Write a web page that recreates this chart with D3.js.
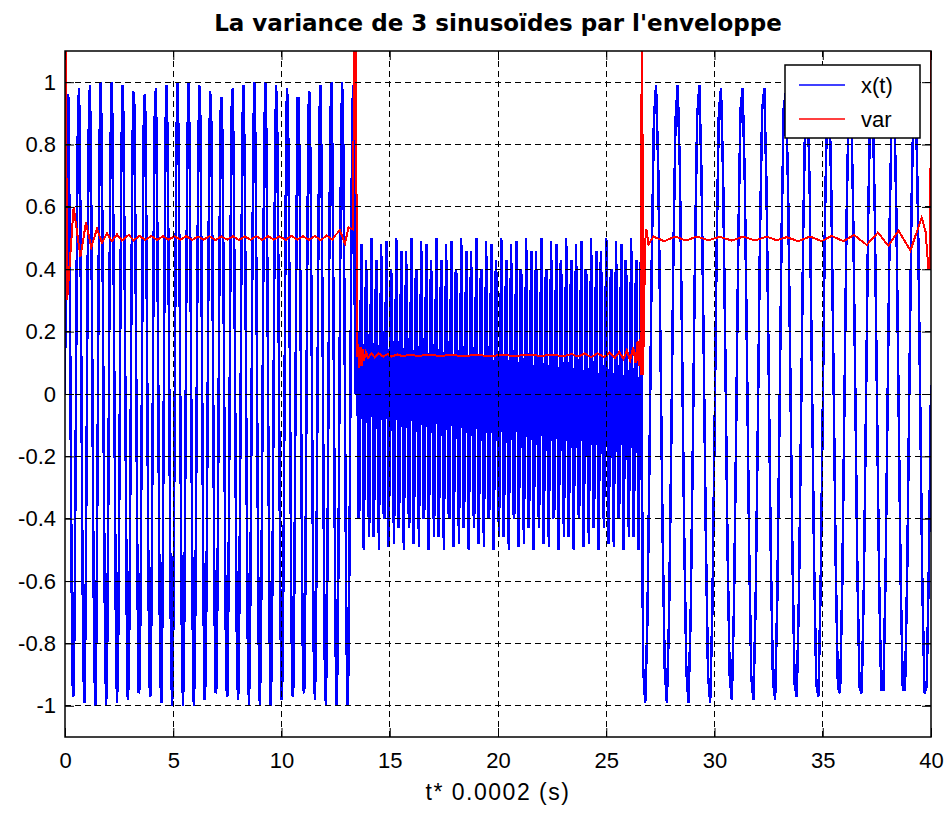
<!DOCTYPE html>
<html>
<head>
<meta charset="utf-8">
<script src="https://cdn.jsdelivr.net/npm/d3@7/dist/d3.min.js"></script>
<style>
  body { margin: 0; background: #fff; }
  text { font-family: "Liberation Sans", Arial, sans-serif; }
</style>
</head>
<body>
<div id="chart"></div>
<script>
// échantillons de x(t)
var seg1Start = 0, seg1Step = 0.05;
var seg2Start = 13.4, seg2Step = 0.05;
var seg3Start = 26.7, seg3Step = 0.1;

var seg1 = [0, .58, .95, .96, .62, .04, -.54, -.93, -.97, -.65,
    -.09, .51, .91, .98, .68, .13, -.47, -.89, -.99, -.71,
    -.17, .43, .87, .99, .74, .22, -.39, -.85, -1, -.77,
    -.26, .35, .83, 1, .8, .3, -.31, -.8, -1, -.82,
    -.34, .27, .78, 1, .85, .38, -.22, -.75, -.99, -.87,
    -.42, .18, .72, .99, .89, .46, -.14, -.69, -.98, -.91,
    -.5, .1, .66, .97, .93, .54, -.05, -.62, -.96, -.94,
    -.57, .01, .59, .95, .96, .61, .03, -.55, -.93, -.97,
    -.64, -.08, .52, .92, .98, .68, .12, -.48, -.9, -.99,
    -.71, -.17, .44, .88, .99, .74, .21, -.4, -.86, -1,
    -.77, -.25, .36, .83, 1, .79, .29, -.32, -.81, -1,
    -.82, -.33, .28, .78, 1, .84, .37, -.23, -.75, -1,
    -.87, -.41, .19, .73, .99, .89, .45, -.15, -.69, -.98,
    -.91, -.49, .1, .66, .97, .92, .53, -.06, -.63, -.96,
    -.94, -.57, .02, .59, .95, .95, .6, .03, -.56, -.94,
    -.97, -.64, -.07, .52, .92, .98, .67, .11, -.48, -.9,
    -.98, -.7, -.16, .45, .88, .99, .73, .2, -.41, -.86,
    -1, -.76, -.24, .37, .84, 1, .79, .28, -.33, -.81,
    -1, -.81, -.33, .28, .79, 1, .84, .37, -.24, -.76,
    -1, -.86, -.41, .2, .73, .99, .88, .45, -.16, -.7,
    -.98, -.9, -.48, .11, .67, .98, .92, .52, -.07, -.64,
    -.97, -.94, -.56, .03, .6, .95, .95, .59, .02, -.57,
    -.94, -.96, -.63, -.06, .53, .92, .97, .66, .1, -.49,
    -.91, -.98, -.69, -.15, .45, .89, .99, .73, .19, -.41,
    -.87, -1, -.75, -.23, .37, .84, 1, .78, .28, -.33,
    -.82, -1, -.81, -.32, .29, .79, 1, .83, .36, -.25,
    -.77, -1, -.86, -.4, .21, .74, .99, .88];

var seg2 = [0, .49, .2, -.4, -.37, .25, .48, -.05, -.5, -.15,
    .43, .33, -.29, -.46, .1, .5, .1, -.46, -.29, .33,
    .43, -.15, -.5, -.05, .48, .25, -.37, -.4, .2, .49,
    0, -.49, -.2, .4, .37, -.25, -.48, .05, .5, .15,
    -.43, -.33, .29, .46, -.1, -.5, -.1, .46, .29, -.33,
    -.43, .15, .5, .05, -.48, -.25, .37, .4, -.2, -.49,
    0, .49, .2, -.4, -.37, .25, .48, -.05, -.5, -.15,
    .43, .33, -.29, -.46, .1, .5, .1, -.46, -.29, .33,
    .43, -.15, -.5, -.05, .48, .25, -.37, -.4, .2, .49,
    0, -.49, -.2, .4, .37, -.25, -.48, .05, .5, .15,
    -.43, -.33, .29, .46, -.1, -.5, -.1, .46, .29, -.33,
    -.43, .15, .5, .05, -.48, -.25, .37, .4, -.2, -.49,
    0, .49, .2, -.4, -.37, .25, .48, -.05, -.5, -.15,
    .43, .33, -.29, -.46, .1, .5, .1, -.46, -.29, .33,
    .43, -.15, -.5, -.05, .48, .25, -.37, -.4, .2, .49,
    0, -.49, -.2, .4, .37, -.25, -.48, .05, .5, .15,
    -.43, -.33, .29, .46, -.1, -.5, -.1, .46, .29, -.33,
    -.43, .15, .5, .05, -.48, -.25, .37, .4, -.2, -.49,
    0, .49, .2, -.4, -.37, .25, .48, -.05, -.5, -.15,
    .43, .33, -.29, -.46, .1, .5, .1, -.46, -.29, .33,
    .43, -.15, -.5, -.05, .48, .25, -.37, -.4, .2, .49,
    0, -.49, -.2, .4, .37, -.25, -.48, .05, .5, .15,
    -.43, -.33, .29, .46, -.1, -.5, -.1, .46, .29, -.33,
    -.43, .15, .5, .05, -.48, -.25, .37, .4, -.2, -.49,
    0, .49, .2, -.4, -.37, .25, .48, -.05, -.5, -.15,
    .43, .33, -.29, -.46, .1, .5, .1, -.46, -.29, .33,
    .43, -.15, -.5, -.05, .48];

var seg3 = [-.87, -.99, -.73, -.19, .42, .88, .99, .73, .18, -.43,
    -.88, -.99, -.72, -.18, .44, .88, .99, .72, .17, -.45,
    -.89, -.99, -.71, -.16, .45, .89, .99, .7, .15, -.46,
    -.9, -.99, -.7, -.14, .47, .9, .98, .69, .13, -.48,
    -.9, -.98, -.68, -.12, .49, .91, .98, .68, .12, -.49,
    -.91, -.98, -.67, -.11, .5, .91, .98, .67, .1, -.51,
    -.92, -.98, -.66, -.09, .52, .92, .97, .65, .08, -.52,
    -.93, -.97, -.65, -.07, .53, .93, .97, .64, .06, -.54,
    -.93, -.97, -.63, -.05, .55, .93, .97, .63, .05, -.55,
    -.94, -.96, -.62, -.04, .56, .94, .96, .61, .03, -.57,
    -.94, -.96, -.61, -.02, .57, .95, .96, .6, .01, -.58,
    -.95, -.95, -.59, 0, .59, .95, .95, .58, -.01, -.6,
    -.95, -.95, -.58, .02, .6, .96, .94, .57, -.02, -.61,
    -.96, -.94, -.56, .03];

var varT = [0, 0.1, 0.4, 0.71, 0.97, 1.21, 1.48, 1.71, 1.94, 2.17,
    2.4, 2.63, 2.94, 3.17, 3.44, 3.71, 3.98, 4.25, 4.52, 4.79,
    5.06, 5.33, 5.6, 5.87, 6.14, 6.41, 6.68, 6.95, 7.22, 7.49,
    7.76, 8.03, 8.3, 8.57, 8.84, 9.11, 9.38, 9.65, 9.92, 10.19,
    10.46, 10.73, 11.0, 11.27, 11.54, 11.81, 12.08, 12.35, 12.5, 12.7,
    12.93, 13.1, 13.3, 13.4, 13.5, 13.55, 13.6, 13.65, 13.7, 13.75,
    13.8, 13.9, 14.0, 14.15, 14.3, 14.5, 14.7, 14.9, 15.1, 15.35,
    15.6, 15.9, 16.3, 16.8, 17.3, 17.8, 18.4, 19.0, 19.6, 20.2,
    20.8, 21.4, 22.0, 22.5, 23.0, 23.4, 23.7, 24.0, 24.3, 24.6,
    24.9, 25.15, 25.4, 25.6, 25.8, 25.95, 26.1, 26.25, 26.35, 26.45,
    26.5, 26.55, 26.6, 26.65, 26.7, 26.8, 26.85, 26.95, 27.18, 27.68,
    28.18, 28.68, 29.18, 29.7, 30.25, 30.8, 31.33, 31.87, 32.41, 32.87,
    33.33, 33.87, 34.41, 34.95, 35.41, 35.95, 36.45, 37.03, 37.55, 38.03,
    38.5, 39.05, 39.57, 39.75, 39.88, 39.97, 40];
var varV = [1.6, 0.30, 0.60, 0.44, 0.55, 0.47, 0.53, 0.485, 0.515, 0.49,
    0.512, 0.492, 0.51, 0.493, 0.507, 0.494, 0.507, 0.494, 0.506, 0.495,
    0.506, 0.495, 0.506, 0.494, 0.505, 0.495, 0.506, 0.494, 0.505, 0.495,
    0.506, 0.494, 0.505, 0.495, 0.506, 0.494, 0.506, 0.495, 0.506, 0.494,
    0.507, 0.495, 0.506, 0.494, 0.507, 0.493, 0.508, 0.495, 0.51, 0.525,
    0.482, 0.535, 0.528, 1.6, 0.12, 0.16, 0.085, 0.15, 0.09, 0.145,
    0.105, 0.135, 0.115, 0.13, 0.118, 0.13, 0.12, 0.128, 0.12, 0.127,
    0.121, 0.126, 0.122, 0.126, 0.122, 0.125, 0.122, 0.125, 0.122, 0.125,
    0.122, 0.126, 0.122, 0.126, 0.121, 0.128, 0.12, 0.13, 0.118, 0.131,
    0.118, 0.133, 0.116, 0.135, 0.112, 0.14, 0.108, 0.15, 0.1, 0.17,
    0.09, 0.175, 0.06, 1.6, 0.06, 0.49, 0.53, 0.48, 0.505, 0.49,
    0.505, 0.492, 0.505, 0.493, 0.504, 0.492, 0.505, 0.492, 0.505, 0.493,
    0.503, 0.49, 0.505, 0.49, 0.507, 0.49, 0.51, 0.478, 0.518, 0.475,
    0.524, 0.46, 0.566, 0.52, 0.40, 0.40, 1.6];

var xTicks = [0, 5, 10, 15, 20, 25, 30, 35, 40];
var yTicks = [-1, -0.8, -0.6, -0.4, -0.2, 0, 0.2, 0.4, 0.6, 0.8, 1];
var titleText = "La variance de 3 sinusoïdes par l'enveloppe";
var xLabel = "t* 0.0002 (s)";
var legendNames = ["x(t)", "var"];
var legendColors = ["#0000ff", "#ff0000"];

function draw_figure(containerId) {
    var WIDTH = 950, HEIGHT = 814;
    var left = 65, right = 931, top = 51, bottom = 737;
    var FONT = 22;

    var svg = d3.select(containerId).append("svg")
        .attr("width", WIDTH)
        .attr("height", HEIGHT)
        .style("background", "#fff");

    var x = d3.scaleLinear().domain([0, 40]).range([left, right]);
    var y = d3.scaleLinear().domain([-1.1, 1.1]).range([bottom, top]);

    // points du signal, segment par segment
    var signal = [];
    [[seg1Start, seg1Step, seg1], [seg2Start, seg2Step, seg2], [seg3Start, seg3Step, seg3]]
        .forEach(function (s) {
            s[2].forEach(function (v, i) {
                signal.push({ t: s[0] + i * s[1], v: v });
            });
        });
    var variance = varT.map(function (t, i) { return { t: t, v: varV[i] }; });

    svg.append("defs").append("clipPath").attr("id", "plotclip")
        .append("rect")
        .attr("x", left).attr("y", top)
        .attr("width", right - left).attr("height", bottom - top);

    var line = d3.line()
        .x(function (d) { return x(d.t); })
        .y(function (d) { return y(d.v); });

    var plot = svg.append("g").attr("clip-path", "url(#plotclip)");

    plot.append("path")
        .datum(signal)
        .attr("d", line)
        .attr("fill", "none")
        .attr("stroke", legendColors[0])
        .attr("stroke-width", 2.5)
        .attr("shape-rendering", "crispEdges");

    plot.append("path")
        .datum(variance)
        .attr("d", line)
        .attr("fill", "none")
        .attr("stroke", legendColors[1])
        .attr("stroke-width", 2)
        .attr("shape-rendering", "crispEdges");

    // grille pointillée (par-dessus les courbes, comme sur l'original)
    var grid = svg.append("g").attr("stroke", "#000")
        .attr("stroke-width", 1).attr("stroke-dasharray", "6,4")
        .attr("shape-rendering", "crispEdges");
    grid.selectAll(".gx").data(xTicks.slice(1, -1)).enter().append("line")
        .attr("x1", function (d) { return x(d); }).attr("x2", function (d) { return x(d); })
        .attr("y1", top).attr("y2", bottom);
    grid.selectAll(".gy").data(yTicks).enter().append("line")
        .attr("y1", function (d) { return y(d); }).attr("y2", function (d) { return y(d); })
        .attr("x1", left).attr("x2", right);

    // axes avec graduations vers l'intérieur
    var fmt = function (d) { return String(+d.toFixed(1)); };
    svg.append("g").attr("transform", "translate(0," + bottom + ")")
        .call(d3.axisBottom(x).tickValues(xTicks).tickSize(-9).tickPadding(15).tickFormat(fmt));
    svg.append("g").attr("transform", "translate(" + left + ",0)")
        .call(d3.axisLeft(y).tickValues(yTicks).tickSize(-9).tickPadding(9).tickFormat(fmt));
    svg.append("g").attr("transform", "translate(0," + top + ")")
        .call(d3.axisTop(x).tickValues(xTicks).tickSize(-9).tickFormat(""));
    svg.append("g").attr("transform", "translate(" + right + ",0)")
        .call(d3.axisRight(y).tickValues(yTicks).tickSize(-9).tickFormat(""));

    svg.selectAll(".domain").remove();
    svg.selectAll(".tick line").attr("stroke", "#000");
    svg.selectAll(".tick text")
        .attr("fill", "#000")
        .style("font-size", FONT + "px")
        .style("font-family", "'Liberation Sans', Arial, sans-serif");

    svg.append("rect")
        .attr("x", left).attr("y", top)
        .attr("width", right - left).attr("height", bottom - top)
        .attr("fill", "none").attr("stroke", "#000").attr("stroke-width", 1.5);

    // titre et étiquette de l'axe x
    svg.append("text")
        .attr("x", (left + right) / 2).attr("y", 31)
        .attr("text-anchor", "middle")
        .style("font-family", "'DejaVu Sans', sans-serif")
        .style("font-size", "23px").style("font-weight", "bold")
        .text(titleText);

    svg.append("text")
        .attr("x", (left + right) / 2).attr("y", 800)
        .attr("text-anchor", "middle")
        .style("font-size", "23px")
        .style("letter-spacing", "1.5px")
        .text(xLabel);

    // légende
    var lg = svg.append("g").attr("transform", "translate(785,65)");
    lg.append("rect")
        .attr("width", 135).attr("height", 73)
        .attr("fill", "#fff").attr("stroke", "#000").attr("stroke-width", 1.5);
    legendNames.forEach(function (name, i) {
        var ly = 20 + i * 34;
        lg.append("line")
            .attr("x1", 14).attr("x2", 60).attr("y1", ly).attr("y2", ly)
            .attr("stroke", legendColors[i]).attr("stroke-width", 1.5);
        lg.append("text")
            .attr("x", 76).attr("y", ly).attr("dy", "0.35em")
            .style("font-size", FONT + "px")
            .text(name);
    });
}

draw_figure("#chart");
</script>
</body>
</html>
